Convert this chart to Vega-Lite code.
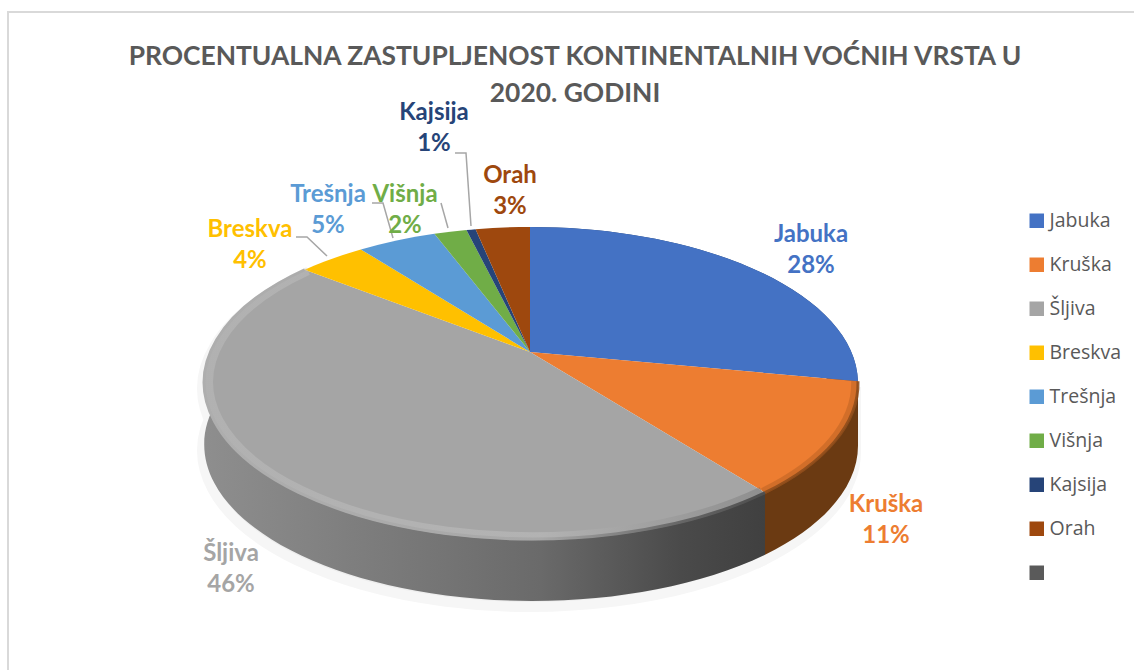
{
"$schema":"https://vega.github.io/schema/vega-lite/v6.json",
"width":1134,"height":670,"padding":0,"autosize":{"type":"none"},
"background":"white",
"title":{"text":["PROCENTUALNA ZASTUPLJENOST KONTINENTALNIH VOĆNIH VRSTA U","2020. GODINI"],"font":"Lato","fontSize":26.4,"fontWeight":"bold","color":"#595959","anchor":"middle","frame":"group","orient":"top","offset":0,"dx":8,"dy":107,"lineHeight":37},
"config":{"view":{"stroke":null}},
"data":{"values":[
{"name":"Jabuka","value":28},{"name":"Kruška","value":11.45},{"name":"Šljiva","value":46.1},{"name":"Breskva","value":4},{"name":"Trešnja","value":4.7},{"name":"Višnja","value":1.95},{"name":"Kajsija","value":0.55},{"name":"Orah","value":3.25}]},
"transform":[
{"window":[{"op":"sum","field":"value","as":"cum"}]},
{"calculate":"(datum.cum-datum.value)/100*2*PI","as":"a0"},
{"calculate":"datum.cum/100*2*PI","as":"a1"},
{"calculate":"round(100*321.3*sin(datum.a0)/(1+0.2013*cos(datum.a0)))/100","as":"x0"},
{"calculate":"round(-100*150.2*cos(datum.a0)/(1+0.2013*cos(datum.a0)))/100","as":"y0"},
{"calculate":"round(100*321.3*sin(datum.a1)/(1+0.2013*cos(datum.a1)))/100","as":"x1"},
{"calculate":"round(-100*150.2*cos(datum.a1)/(1+0.2013*cos(datum.a1)))/100","as":"y1"},
{"calculate":"(datum.x0*(datum.y1-31.5)-(datum.y0-31.5)*datum.x1)<0?1:0","as":"large"},
{"calculate":"'M0,0L'+datum.x0+','+datum.y0+'A328,156.5 0 '+datum.large+' 1 '+datum.x1+','+datum.y1+'Z'","as":"topPath"},
{"calculate":"'M'+datum.x0+','+datum.y0+'A328,156.5 0 '+datum.large+' 1 '+datum.x1+','+datum.y1+'L'+datum.x1+','+(datum.y1+62)+'A328,156.5 0 '+datum.large+' 0 '+datum.x0+','+(datum.y0+62)+'Z'","as":"rimPath"},
{"calculate":"'M'+datum.x0+','+datum.y0+'A328,156.5 0 '+datum.large+' 1 '+datum.x1+','+datum.y1","as":"edgePath"},
{"calculate":"{'Jabuka':811,'Kruška':886,'Šljiva':231,'Breskva':250,'Trešnja':328,'Višnja':405,'Kajsija':434,'Orah':510}[datum.name]","as":"lx"},
{"calculate":"{'Jabuka':235,'Kruška':505,'Šljiva':554,'Breskva':230,'Trešnja':195,'Višnja':195,'Kajsija':113,'Orah':176}[datum.name]","as":"ly"},
{"calculate":"[datum.name,round(datum.value)+'%']","as":"label"}
],
"encoding":{
"x":{"type":"quantitative","scale":{"domain":[0,1134],"nice":false,"zero":false},"axis":null},
"y":{"type":"quantitative","scale":{"domain":[0,670],"nice":false,"zero":false,"reverse":true},"axis":null}
},
"layer":[
{"data":{"values":[{"i":0,"px":8,"py":670},{"i":1,"px":8,"py":12},{"i":2,"px":1134,"py":12}]},
"mark":{"type":"line","stroke":"#d9d9d9","strokeWidth":2},
"encoding":{"x":{"field":"px"},"y":{"field":"py"},"order":{"field":"i"}}},
{"transform":[{"filter":"datum.name==='Šljiva'||datum.name==='Kruška'"}],
"mark":{"type":"point","filled":true,"fill":"#eeeeee","stroke":"#f6f6f6","strokeWidth":10,"opacity":1},
"encoding":{"x":{"datum":528},"y":{"datum":358},"shape":{"field":"rimPath","type":"nominal","scale":null},"size":{"value":4}}},
{"transform":[{"filter":"datum.name==='Jabuka'"}],
"mark":{"type":"point","filled":true,"fill":"#24406f","opacity":1},
"encoding":{"x":{"datum":530},"y":{"datum":352},"shape":{"field":"rimPath","type":"nominal","scale":null},"size":{"value":4}}},
{"transform":[{"filter":"datum.name==='Kruška'"}],
"mark":{"type":"point","filled":true,"fill":"#6b3a12","opacity":1},
"encoding":{"x":{"datum":530},"y":{"datum":352},"shape":{"field":"rimPath","type":"nominal","scale":null},"size":{"value":4}}},
{"transform":[{"filter":"datum.name==='Šljiva'"}],
"mark":{"type":"point","filled":true,"opacity":1,"fill":{"gradient":"linear","x1":0,"x2":1,"y1":0,"y2":0,"stops":[{"offset":0,"color":"#8e8e8e"},{"offset":0.3,"color":"#7c7c7c"},{"offset":0.6,"color":"#6a6a6a"},{"offset":0.85,"color":"#4a4a4a"},{"offset":1,"color":"#404040"}]}},
"encoding":{"x":{"datum":530},"y":{"datum":352},"shape":{"field":"rimPath","type":"nominal","scale":null},"size":{"value":4}}},
{"mark":{"type":"point","filled":true,"opacity":1},
"encoding":{"x":{"datum":530},"y":{"datum":352},"shape":{"field":"topPath","type":"nominal","scale":null},"size":{"value":4},
"color":{"field":"name","type":"nominal","scale":{"domain":["Jabuka","Kruška","Šljiva","Breskva","Trešnja","Višnja","Kajsija","Orah"," "],"range":["#4472C4","#ED7D31","#A5A5A5","#FFC000","#5B9BD5","#70AD47","#264478","#9E480E","#5a5a5a"]},
"legend":{"title":null,"orient":"none","legendX":1027,"legendY":211,"symbolType":"square","symbolSize":210,"symbolOpacity":1,"rowPadding":23,"labelFont":"Open Sans","labelFontSize":19.5,"labelColor":"#595959","labelOffset":3,"symbolStrokeWidth":0}}}},
{"transform":[{"filter":"datum.name==='Kruška'"}],
"mark":{"type":"point","filled":false,"fill":null,"stroke":"#b25e22","strokeWidth":7,"opacity":0.45},
"encoding":{"x":{"datum":530},"y":{"datum":352},"shape":{"field":"edgePath","type":"nominal","scale":null},"size":{"value":3.92}}},
{"transform":[{"filter":"datum.name==='Kruška'"}],
"mark":{"type":"point","filled":false,"fill":null,"stroke":"#8f4c1b","strokeWidth":3,"opacity":0.9},
"encoding":{"x":{"datum":530},"y":{"datum":352},"shape":{"field":"edgePath","type":"nominal","scale":null},"size":{"value":4}}},
{"transform":[{"filter":"datum.name==='Šljiva'"}],
"mark":{"type":"point","filled":false,"fill":null,"strokeWidth":8,"opacity":0.35,"stroke":{"gradient":"linear","x1":0,"x2":1,"y1":0,"y2":0,"stops":[{"offset":0,"color":"#c8c8c8"},{"offset":0.6,"color":"#cccccc"},{"offset":0.85,"color":"#8c8c8c"},{"offset":1,"color":"#666666"}]}},
"encoding":{"x":{"datum":530},"y":{"datum":352},"shape":{"field":"edgePath","type":"nominal","scale":null},"size":{"value":3.88}}},
{"transform":[{"filter":"datum.name==='Šljiva'"}],
"mark":{"type":"point","filled":false,"fill":null,"strokeWidth":3,"opacity":1,"stroke":{"gradient":"linear","x1":0,"x2":1,"y1":0,"y2":0,"stops":[{"offset":0,"color":"#aeaeae"},{"offset":0.6,"color":"#a8a8a8"},{"offset":0.85,"color":"#666666"},{"offset":1,"color":"#4e4e4e"}]}},
"encoding":{"x":{"datum":530},"y":{"datum":352},"shape":{"field":"edgePath","type":"nominal","scale":null},"size":{"value":4}}},
{"data":{"values":[
{"g":"Breskva","i":0,"px":296,"py":237},{"g":"Breskva","i":1,"px":307,"py":237},{"g":"Breskva","i":2,"px":327,"py":256},
{"g":"Trešnja","i":0,"px":372,"py":203},{"g":"Trešnja","i":1,"px":383,"py":203},{"g":"Trešnja","i":2,"px":393,"py":238},
{"g":"Višnja","i":0,"px":441,"py":203},{"g":"Višnja","i":1,"px":448,"py":228},
{"g":"Kajsija","i":0,"px":455,"py":153},{"g":"Kajsija","i":1,"px":466,"py":153},{"g":"Kajsija","i":2,"px":471,"py":226}]},
"mark":{"type":"line","stroke":"#a6a6a6","strokeWidth":1.5},
"encoding":{"x":{"field":"px"},"y":{"field":"py"},"detail":{"field":"g"},"order":{"field":"i"}}},
{"mark":{"type":"text","font":"Lato","fontSize":24,"fontWeight":"bold","lineHeight":31,"baseline":"middle","align":"center"},
"encoding":{"x":{"field":"lx"},"y":{"field":"ly"},"text":{"field":"label"},
"color":{"field":"name","type":"nominal","scale":{"domain":["Jabuka","Kruška","Šljiva","Breskva","Trešnja","Višnja","Kajsija","Orah"," "],"range":["#4472C4","#ED7D31","#A5A5A5","#FFC000","#5B9BD5","#70AD47","#264478","#9E480E","#5a5a5a"]}}}}
]
}
